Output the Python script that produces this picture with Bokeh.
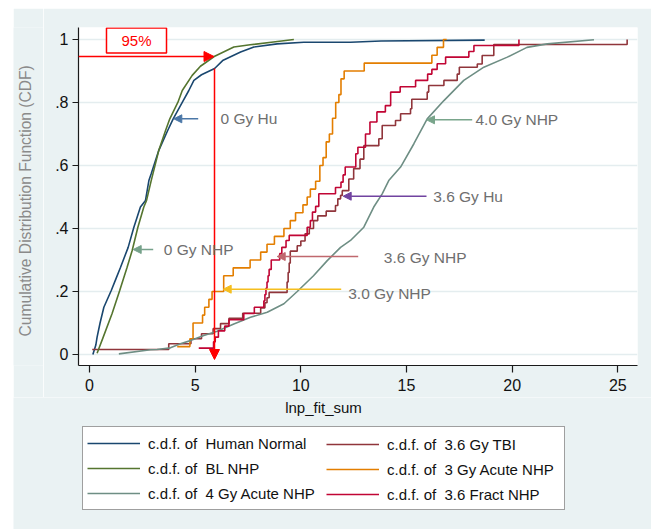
import math
from bokeh.plotting import figure
from bokeh.models import (Range1d, FixedTicker, Legend, LegendItem, Label, Arrow,
                          NormalHead, Spacer)
from bokeh.layouts import column, row
from bokeh.embed import file_html
from bokeh.resources import INLINE

# ---------------- data ----------------
# c.d.f. of Human Normal
hn_x = [0.16, 0.30, 0.36, 0.50, 0.68, 1.03, 1.25, 1.47, 1.83, 2.10, 2.41, 2.65, 2.81,
        2.92, 3.28, 3.70, 3.96, 4.39, 4.70, 4.94, 5.30, 5.92, 6.30, 7.15, 7.78,
        8.88, 10.14, 12.35, 13.80, 18.70]
hn_y = [0.000, 0.030, 0.055, 0.100, 0.150, 0.203, 0.240, 0.277, 0.340, 0.404, 0.468,
        0.489, 0.552, 0.574, 0.648, 0.711, 0.748, 0.800, 0.838, 0.870, 0.888,
        0.908, 0.933, 0.960, 0.976, 0.986, 0.991, 0.991, 0.995, 0.998]
# c.d.f. of 3.6 Gy TBI
tbi_x = [0.13, 3.75, 4.80, 5.30, 5.85, 6.20, 6.60, 7.25, 8.10, 8.30, 8.40, 8.50, 9.35,
         9.40, 9.45, 9.50, 9.83, 10.00, 10.20, 10.40, 10.60, 10.80, 11.20, 11.64, 11.75,
         11.88, 11.96, 12.27, 12.50, 12.80, 12.98, 13.69, 13.85, 14.48, 14.72, 15.19,
         15.25, 15.98, 16.05, 16.77, 17.40, 17.50, 18.35, 18.58, 19.13, 25.44]
tbi_y = [0.016, 0.034, 0.050, 0.066, 0.082, 0.098, 0.115, 0.131, 0.148, 0.164, 0.180,
         0.197, 0.230, 0.260, 0.290, 0.328, 0.345, 0.360, 0.383, 0.400, 0.425, 0.440,
         0.455, 0.473, 0.494, 0.505, 0.520, 0.557, 0.590, 0.620, 0.663, 0.685, 0.727,
         0.743, 0.764, 0.780, 0.810, 0.833, 0.854, 0.870, 0.890, 0.912, 0.922, 0.949,
         0.984, 1.000]
# c.d.f. of BL NHP
bl_x = [0.36, 0.65, 1.07, 1.43, 1.78, 2.02, 2.29, 2.57, 2.70, 2.92, 3.28, 3.60, 3.80,
        4.18, 4.39, 4.86, 5.25, 5.90, 6.83, 7.60, 8.70, 9.67]
bl_y = [0.004, 0.055, 0.130, 0.203, 0.277, 0.330, 0.404, 0.468, 0.489, 0.552, 0.648,
        0.711, 0.748, 0.800, 0.838, 0.886, 0.915, 0.946, 0.976, 0.983, 0.992, 1.000]
# c.d.f. of 3 Gy Acute NHP
g3_x = [4.15, 4.75, 4.90, 5.35, 5.45, 5.65, 5.80, 6.35, 6.80, 7.60, 8.10, 8.40, 8.75,
        9.20, 9.50, 9.75, 10.10, 10.30, 10.45, 10.70, 10.90, 11.05, 11.20, 11.35, 11.50,
        11.65, 11.80, 11.90, 12.05, 13.00, 16.20, 16.45, 16.75, 16.90]
g3_y = [0.025, 0.050, 0.100, 0.125, 0.150, 0.175, 0.200, 0.250, 0.275, 0.300, 0.325,
        0.350, 0.375, 0.400, 0.425, 0.450, 0.475, 0.500, 0.525, 0.550, 0.600, 0.625,
        0.675, 0.700, 0.750, 0.800, 0.825, 0.875, 0.900, 0.925, 0.950, 0.975, 1.000,
        1.000]
# c.d.f. of 4 Gy Acute NHP
g4_x = [1.39, 2.89, 3.20, 3.83, 4.30, 4.78, 5.41, 6.04, 6.83, 7.62, 8.41, 9.20, 9.83,
        10.60, 11.25, 11.88, 12.35, 12.98, 13.45, 13.85, 14.16, 14.72, 15.35, 15.98,
        16.77, 17.71, 18.66, 19.77, 20.70, 21.66, 23.87]
g4_y = [0.002, 0.015, 0.016, 0.021, 0.034, 0.044, 0.060, 0.074, 0.097, 0.118, 0.134,
        0.161, 0.200, 0.250, 0.298, 0.340, 0.362, 0.404, 0.468, 0.510, 0.552, 0.595,
        0.669, 0.748, 0.806, 0.870, 0.912, 0.944, 0.975, 0.986, 0.999]
# c.d.f. of 3.6 Fract NHP
fr_x = [5.17, 5.87, 5.95, 6.10, 6.40, 6.60, 7.30, 7.80, 8.25, 8.30, 8.35, 8.40, 8.45,
        8.50, 8.60, 9.00, 9.10, 9.30, 9.45, 10.30, 10.45, 10.55, 10.70, 10.85, 11.64,
        11.90, 12.00, 12.10, 12.60, 12.70, 13.06, 13.27, 13.60, 14.00, 14.25, 14.70,
        15.43, 16.00, 16.20, 16.45, 16.85, 17.95, 18.19, 20.32]
fr_y = [0.020, 0.040, 0.055, 0.075, 0.090, 0.110, 0.130, 0.150, 0.170, 0.190, 0.210,
        0.230, 0.250, 0.270, 0.300, 0.320, 0.340, 0.362, 0.378, 0.404, 0.425, 0.452,
        0.470, 0.510, 0.530, 0.547, 0.570, 0.595, 0.637, 0.658, 0.700, 0.738, 0.770,
        0.790, 0.833, 0.850, 0.870, 0.890, 0.905, 0.923, 0.944, 0.962, 0.981, 1.000]

legend_labels = ["c.d.f. of  Human Normal", "c.d.f. of  3.6 Gy TBI",
                 "c.d.f. of  BL NHP", "c.d.f. of  3 Gy Acute NHP",
                 "c.d.f. of  4 Gy Acute NHP", "c.d.f. of  3.6 Fract NHP"]
series_colors = ["#1A476F", "#90353B", "#55752F", "#E37E00", "#6E8E84", "#C10534"]
x_ticks = [0, 5, 10, 15, 20, 25]
y_ticks = [0.0, 0.2, 0.4, 0.6, 0.8, 1.0]
y_tick_labels = ["0", ".2", ".4", ".6", ".8", "1"]

# ---------------- geometry (page px) ----------------
XMIN, XMAX = -0.52, 25.93
YMIN, YMAX = -0.035, 1.038
FL, FR, FT, FB = 78, 637, 27, 365  # plot frame
LEFT0, TOP0 = 13, 8                # start of the tinted graph region
STRIP_W = 30                       # left strip that holds the y title
MAIN_BOTTOM = 397                  # main figure ends here
SX = (FR - FL) / (XMAX - XMIN)
SY = (FB - FT) / (YMAX - YMIN)

def dx(px):
    return XMIN + (px - FL) / SX

def dy(py):
    return YMIN + (FB - py) / SY

BG = "#EAF2F3"
FONT = "Liberation Sans"

def panel(w, h, x0, x1, y_bottom, y_top):
    f = figure(width=w, height=h, x_range=Range1d(x0, x1),
               y_range=Range1d(y_bottom, y_top), output_backend="svg",
               toolbar_location=None, x_axis_location=None, y_axis_location=None,
               min_border=0, min_border_left=0, min_border_right=0,
               min_border_top=0, min_border_bottom=0)
    f.background_fill_color = BG
    f.border_fill_color = BG
    f.outline_line_color = None
    f.grid.visible = False
    return f

# ---------------- main figure ----------------
main_left = LEFT0 + STRIP_W
p = figure(width=651 - main_left, height=MAIN_BOTTOM - TOP0,
           x_range=Range1d(XMIN, XMAX), y_range=Range1d(YMIN, YMAX),
           output_backend="svg", toolbar_location=None,
           min_border_left=FL - main_left, min_border_right=651 - FR,
           min_border_top=FT - TOP0, min_border_bottom=MAIN_BOTTOM - FB)
p.background_fill_color = "white"
p.border_fill_color = BG
p.outline_line_color = None

p.xgrid.visible = False
p.ygrid.grid_line_color = "#E4EDEF"
p.ygrid.grid_line_width = 1.5
p.xaxis.ticker = FixedTicker(ticks=x_ticks)
p.yaxis.ticker = FixedTicker(ticks=y_ticks)
p.yaxis.major_label_overrides = dict(zip(y_ticks, y_tick_labels))
for ax in (p.xaxis[0], p.yaxis[0]):
    ax.axis_line_color = "#1a1a1a"
    ax.axis_line_width = 1.2
    ax.major_tick_line_color = "#1a1a1a"
    ax.major_tick_line_width = 1.2
    ax.minor_tick_line_color = None
    ax.major_tick_in = 0
    ax.major_label_text_font = FONT
    ax.major_label_text_font_size = "16px"
    ax.major_label_text_color = "#111111"
p.xaxis.major_tick_out = 7
p.xaxis.major_label_standoff = 6
p.yaxis.major_tick_out = 6
p.yaxis.major_label_standoff = 4

LW = 1.6
r_hn = p.line(hn_x, hn_y, line_color=series_colors[0], line_width=LW)
r_tbi = p.step(tbi_x, tbi_y, mode="after", line_color=series_colors[1], line_width=LW)
r_bl = p.line(bl_x, bl_y, line_color=series_colors[2], line_width=LW)
r_g3 = p.step(g3_x, g3_y, mode="after", line_color=series_colors[3], line_width=LW)
r_g4 = p.line(g4_x, g4_y, line_color=series_colors[4], line_width=LW)
r_fr = p.step(fr_x, fr_y, mode="after", line_color=series_colors[5], line_width=LW)

# ---------------- annotations ----------------
def arrow(x0, y0, x1, y1, color, size=8, width=1.5):
    p.add_layout(Arrow(end=NormalHead(size=size, fill_color=color, line_color=color,
                                      line_width=1),
                       x_start=x0, y_start=y0, x_end=x1, y_end=y1,
                       line_color=color, line_width=width))

def note(x, y, text, color="#6F6F6F", size="15.5px"):
    p.add_layout(Label(x=x, y=y, text=text, text_color=color, text_font=FONT,
                       text_font_size=size, text_align="left", text_baseline="middle"))

RED = "#FF0000"
arrow(XMIN, dy(56), dx(213.5), dy(56), RED, size=10)
arrow(dx(214), dy(68), dx(214), dy(359), RED, size=10)
p.add_layout(Label(x=dx(136), y=dy(40), text="95%", text_color=RED, text_font=FONT,
                   text_font_size="15px", text_align="center", text_baseline="middle",
                   border_line_color=RED, border_line_width=1.5,
                   background_fill_color="white", padding=(15, 4)))

arrow(dx(197.7), dy(118.3), dx(173.3), dy(118.3), "#4B77A7")
note(dx(220), dy(118.3), "0 Gy Hu")
arrow(dx(152.7), dy(249), dx(132.7), dy(249), "#76A18A")
note(dx(163.3), dy(249), "0 Gy NHP")
arrow(dx(471.7), dy(119.3), dx(426), dy(119.3), "#79A58B")
note(dx(475), dy(119.3), "4.0 Gy NHP")
arrow(dx(426), dy(195.7), dx(342.7), dy(195.7), "#7143A0")
note(dx(432.7), dy(195.7), "3.6 Gy Hu")
arrow(dx(357.7), dy(256), dx(276.7), dy(256), "#C0686E")
note(dx(383.3), dy(256.7), "3.6 Gy NHP")
arrow(dx(340.7), dy(288.7), dx(222.7), dy(288.7), "#F5BE1E")
note(dx(347.7), dy(292.7), "3.0 Gy NHP")

# ---------------- left strip: y title ----------------
s = panel(STRIP_W, MAIN_BOTTOM - TOP0, LEFT0, main_left, MAIN_BOTTOM, TOP0)
s.add_layout(Label(x=25, y=207.5, text="Cumulative Distribution Function (CDF)",
                   angle=math.pi / 2, text_align="center", text_baseline="middle",
                   text_font=FONT, text_font_size="15.6px", text_color="#8A8A8A"))

# ---------------- lower panel: x title and legend ----------------
q = panel(651 - LEFT0, 529 - MAIN_BOTTOM, LEFT0, 651, 529, MAIN_BOTTOM)
q.add_layout(Label(x=323, y=407, text="lnp_fit_sum", text_align="center",
                   text_baseline="middle", text_font=FONT, text_font_size="15px",
                   text_color="#111111"))

# legend keys: single-point lines (nothing drawn in the panel itself)
keys = [q.line([0], [0], line_color=c, line_width=LW) for c in series_colors]

common = dict(glyph_width=53, glyph_height=24, label_height=24, label_standoff=8,
              spacing=1, padding=4, margin=0, label_text_font=FONT,
              label_text_font_size="15px", label_text_color="#111111")
leg1 = Legend(items=[LegendItem(label=legend_labels[i], renderers=[keys[i]])
                     for i in (0, 2, 4)],
              location=(82 - LEFT0, 529 - 510), label_width=412,
              border_line_color="#404040", border_line_width=1,
              background_fill_color="white", background_fill_alpha=1, **common)
leg2 = Legend(items=[LegendItem(label=legend_labels[i], renderers=[keys[i]])
                     for i in (1, 3, 5)],
              location=(326 - LEFT0, 529 - 510 + 4), border_line_color=None,
              background_fill_alpha=0, **common)
q.add_layout(leg1, "center")
q.add_layout(leg2, "center")

layout = column(Spacer(height=TOP0),
                row(Spacer(width=LEFT0), s, p),
                row(Spacer(width=LEFT0), q))
open("out.html", "w").write(file_html(layout, INLINE))
